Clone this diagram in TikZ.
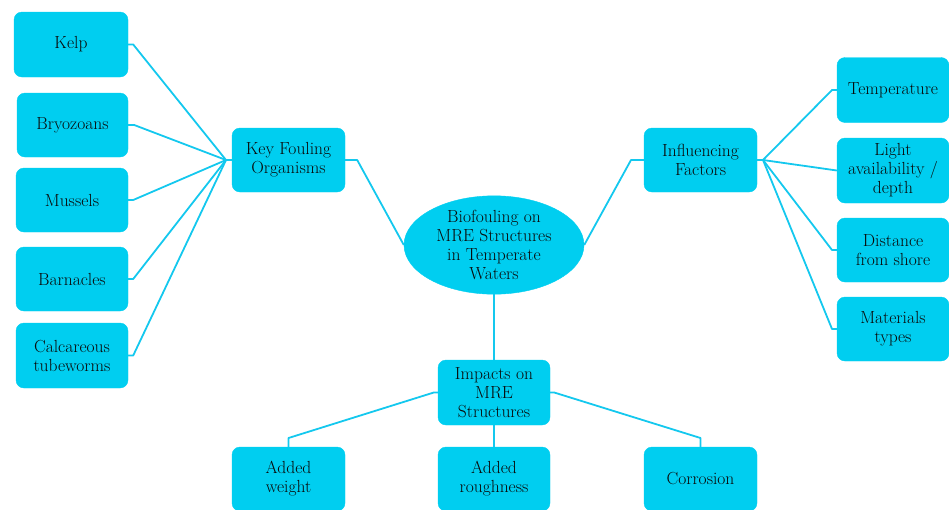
\documentclass[tikz,border=0pt]{standalone}
\usepackage{fontspec}
\usetikzlibrary{shapes.geometric}
\begin{document}
\definecolor{boxcyan}{RGB}{0,206,240}
\definecolor{linecyan}{RGB}{20,200,238}
\definecolor{inktext}{RGB}{10,10,10}
\begin{tikzpicture}[x=1pt,y=-1pt,
  every node/.style={font=\fontsize{17.5}{19}\selectfont, text=inktext, align=center},
  topic/.style={draw=boxcyan, fill=boxcyan, rounded corners=8pt, inner sep=0pt,
    minimum width=112pt, minimum height=64pt},
  hub/.style={draw=boxcyan, fill=boxcyan, ellipse, inner sep=0pt,
    minimum width=180pt, minimum height=90pt},
  link/.style={draw=linecyan, line width=1.8pt, line join=round}]
\useasboundingbox (0,0) rectangle (949,509);

% central theme
\node[hub] (core) at (494,245) {Biofouling on\\MRE Structures\\in Temperate\\Waters};

% first-level branches
\node[topic, minimum width=113pt] (key) at (288.5,160) {Key Fouling\\Organisms};
\node[topic, minimum width=113pt] (infl) at (700.5,160) {Influencing\\Factors};
\node[topic, minimum height=65pt] (imp) at (494,392.5) {Impacts on\\MRE\\Structures};

% organisms
\node[topic, minimum width=114pt, minimum height=65pt] (kelp) at (71,44.5) {Kelp};
\node[topic, minimum width=111pt] (bryo) at (72.5,125) {Bryozoans};
\node[topic] (muss) at (72,200) {Mussels};
\node[topic] (barn) at (72,279) {Barnacles};
\node[topic, minimum height=65pt] (calc) at (72,355.5) {Calcareous\\tubeworms};

% factors
\node[topic, minimum height=65pt] (temp) at (893,90) {Temperature};
\node[topic, minimum height=65pt] (light) at (893,170.5) {Light\\availability /\\depth};
\node[topic] (dist) at (893,250) {Distance\\from shore};
\node[topic] (mat) at (893,329) {Materials\\types};

% impacts
\node[topic, minimum width=113pt] (wgt) at (288.5,479) {Added\\weight};
\node[topic] (rough) at (494,479) {Added\\roughness};
\node[topic, minimum width=113pt] (corr) at (700.5,479) {Corrosion};

% junction points
\coordinate (hubL) at (226,160);
\coordinate (hubR) at (763,160);

% organism connectors
\draw[link] (kelp.east) -- ++(5,0) -- (hubL) -- (key.west);
\draw[link] (bryo.east) -- ++(6,0) -- (hubL);
\draw[link] (muss.east) -- ++(5,0) -- (hubL);
\draw[link] (barn.east) -- ++(5,0) -- (hubL);
\draw[link] (calc.east) -- ++(5,0) -- (hubL);

% theme to branches
\draw[link] (key.east) -- ++(12,0) -- (core.west);
\draw[link] (core.east) -- (631,160) -- (infl.west);
\draw[link] (core.south) -- (imp.north);

% factor connectors
\draw[link] (infl.east) -- (hubR) -- (832,90) -- (temp.west);
\draw[link] (hubR) -- (light.west);
\draw[link] (hubR) -- (832,250) -- (dist.west);
\draw[link] (hubR) -- (832,329) -- (mat.west);

% impact connectors
\draw[link] (imp.west) -- ++(-4,0) -- (288.5,438) -- (wgt.north);
\draw[link] (imp.east) -- ++(4,0) -- (700.5,438) -- (corr.north);
\draw[link] (imp.south) -- (rough.north);
\end{tikzpicture}
\end{document}
